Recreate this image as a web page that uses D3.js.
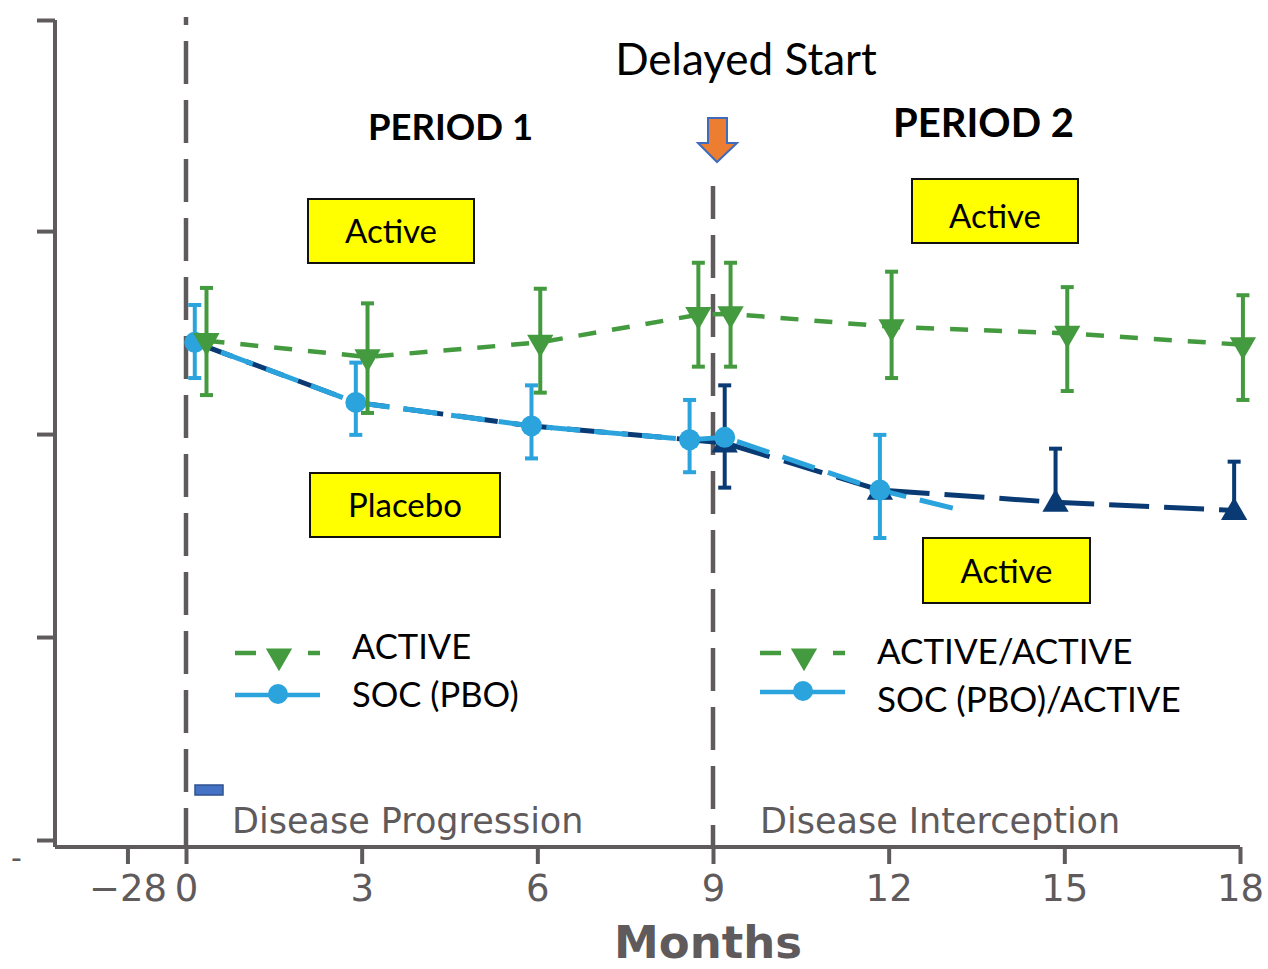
<!DOCTYPE html>
<html>
<head>
<meta charset="utf-8">
<script src="https://cdn.jsdelivr.net/npm/d3@7"></script>
<style>
  html, body { margin: 0; padding: 0; background: #ffffff; }
  svg { display: block; }
</style>
</head>
<body>
<svg id="chart" width="1268" height="969"></svg>
<script>
// ---------------- data ----------------
const xTickValues = [-1, 0, 3, 6, 9, 12, 15, 18];
const xTickLabels = ["\u221228", "0", "3", "6", "9", "12", "15", "18"];
const yTickValues = [0, 25, 50, 75, 101];

// ACTIVE and ACTIVE/ACTIVE (green, down triangles)
const activeMonths = [0.35, 3.1, 6.05, 8.75, 9.3, 12.05, 15.05, 18.05];
const activeValues = [61.5, 59.5, 61.3, 64.7, 64.8, 63.2, 62.4, 61.0];
const activeHigh   = [68.0, 66.1, 67.9, 71.1, 71.1, 70.0, 68.1, 67.1];
const activeLow    = [54.8, 52.6, 55.1, 58.3, 58.3, 56.9, 55.3, 54.2];

// SOC (PBO) and SOC (PBO)/ACTIVE (light blue, circles)
const socMonths  = [0.15, 2.9, 5.9, 8.6, 9.2, 11.85, 13.25];
const socValues  = [61.3, 53.9, 51.0, 49.3, 49.6, 43.1, 40.6];
const socHigh    = [65.9, 58.8, 56.0, 54.2, null, 49.9, null];
const socLow     = [56.9, 49.9, 47.0, 45.3, null, 37.2, null];
const socMarker  = [true, true, true, true, true, true, false];

// SOC (PBO) -> ACTIVE (navy, up triangles)
const navyMonths = [0.15, 2.9, 5.9, 8.6, 9.2, 11.85, 14.85, 17.9];
const navyValues = [61.3, 53.9, 51.0, 49.3, 48.9, 43.1, 41.6, 40.6];
const navyHigh   = [null, null, null, null, 56.0, null, 48.2, 46.6];
const navyLow    = [null, null, null, null, 43.4, null, null, null];
const navyMarker = [false, false, false, false, true, true, true, true];

const periodStarts = [0, 9];

// ---------------- styles ----------------
const GREEN = "#449a3e";
const LBLUE = "#2ba3dc";
const NAVY  = "#0a3a74";
const GRAY  = "#5f5a5c";
const CAL   = "Lato, 'Open Sans', sans-serif";
const TAH   = "'DejaVu Sans', sans-serif";

const svg = d3.select("#chart");

const x = d3.scaleLinear().domain([0, 18]).range([186, 1240]);
const y = d3.scaleLinear().domain([0, 101]).range([840, 20]);
const axisY = 847;
const axisX = 55;

const zip = (ms, vs, hs, ls, mk) => ms.map((m, i) => ({
  m, v: vs[i], hi: hs ? hs[i] : null, lo: ls ? ls[i] : null, mk: mk ? mk[i] : true
}));
const activeData = zip(activeMonths, activeValues, activeHigh, activeLow);
const socData    = zip(socMonths, socValues, socHigh, socLow, socMarker);
const navyData   = zip(navyMonths, navyValues, navyHigh, navyLow, navyMarker);

// ---------------- period dividers ----------------
svg.append("g").selectAll("line").data(periodStarts).join("line")
  .attr("x1", d => x(d)).attr("x2", d => x(d))
  .attr("y1", d => d === 0 ? 17 : 186)
  .attr("y2", axisY)
  .attr("stroke", GRAY).attr("stroke-width", 4.5)
  .attr("stroke-dasharray", "43,16")
  .attr("stroke-dashoffset", d => d === 0 ? 35 : 10);

// ---------------- axes ----------------
const yAxis = svg.append("g").attr("transform", `translate(${axisX},0)`)
  .call(d3.axisLeft(y).tickValues(yTickValues).tickFormat("").tickSizeInner(18).tickSizeOuter(0));
yAxis.select(".domain").attr("d", `M0,${y(101)}V${axisY}`);
yAxis.selectAll("path,line").attr("stroke", GRAY).attr("stroke-width", 4);

const xAxis = svg.append("g").attr("transform", `translate(0,${axisY})`)
  .call(d3.axisBottom(x).tickValues(xTickValues).tickSizeInner(17).tickSizeOuter(0)
    .tickFormat((d, i) => xTickLabels[i]));
xAxis.select(".domain").attr("d", `M${axisX},0H${x(18)}`);
xAxis.selectAll("path,line").attr("stroke", GRAY).attr("stroke-width", 4);
xAxis.selectAll("text")
  .attr("y", 54).attr("dy", 0)
  .attr("fill", GRAY)
  .style("font-family", TAH).style("font-size", "37px");

svg.append("text").attr("x", 708).attr("y", 958)
  .attr("text-anchor", "middle")
  .attr("fill", GRAY)
  .style("font-family", TAH).style("font-weight", "bold").style("font-size", "45px")
  .text("Months");

// small clipped label remnants
svg.append("text").attr("x", 11).attr("y", 868).attr("fill", GRAY)
  .style("font-family", TAH).style("font-size", "30px").text("-");

// ---------------- region labels ----------------
svg.append("rect").attr("x", 195).attr("y", 785).attr("width", 28).attr("height", 10)
  .attr("fill", "#4472c4").attr("stroke", "#2f528f").attr("stroke-width", 1.5);
svg.append("text").attr("x", 232).attr("y", 833).attr("fill", GRAY)
  .style("font-family", TAH).style("font-size", "35px").text("Disease Progression");
svg.append("text").attr("x", 760).attr("y", 833).attr("fill", GRAY)
  .style("font-family", TAH).style("font-size", "35px").text("Disease Interception");

// ---------------- series ----------------
const line = d3.line().x(d => x(d.m)).y(d => y(d.v));

svg.append("path").datum(navyData).attr("d", line)
  .attr("fill", "none").attr("stroke", NAVY).attr("stroke-width", 5)
  .attr("stroke-dasharray", "40,15");
svg.append("path").datum(socData).attr("d", line)
  .attr("fill", "none").attr("stroke", LBLUE).attr("stroke-width", 5)
  .attr("stroke-dasharray", "34,14").attr("stroke-dashoffset", 20);

function errorBars(data, color) {
  const g = svg.append("g").attr("stroke", color).attr("stroke-width", 4);
  const eb = data.filter(d => d.hi !== null);
  g.selectAll("line.v").data(eb).join("line")
    .attr("x1", d => x(d.m)).attr("x2", d => x(d.m))
    .attr("y1", d => y(d.hi)).attr("y2", d => y(d.lo !== null ? d.lo : d.v));
  g.selectAll("line.h").data(eb).join("line")
    .attr("x1", d => x(d.m) - 6.5).attr("x2", d => x(d.m) + 6.5)
    .attr("y1", d => y(d.hi)).attr("y2", d => y(d.hi));
  g.selectAll("line.l").data(eb.filter(d => d.lo !== null)).join("line")
    .attr("x1", d => x(d.m) - 6.5).attr("x2", d => x(d.m) + 6.5)
    .attr("y1", d => y(d.lo)).attr("y2", d => y(d.lo));
}

errorBars(navyData, NAVY);
svg.append("g").selectAll("path").data(navyData.filter(d => d.mk)).join("path")
  .attr("d", d3.symbol(d3.symbolTriangle, 300))
  .attr("transform", d => `translate(${x(d.m)},${y(d.v) + 2})`)
  .attr("fill", NAVY);

errorBars(socData, LBLUE);
svg.append("g").selectAll("circle").data(socData.filter(d => d.mk)).join("circle")
  .attr("cx", d => x(d.m)).attr("cy", d => y(d.v)).attr("r", 10.5)
  .attr("fill", LBLUE);

svg.append("path").datum(activeData).attr("d", line)
  .attr("fill", "none").attr("stroke", GREEN).attr("stroke-width", 4.5)
  .attr("stroke-dasharray", "18,16");
errorBars(activeData, GREEN);
svg.append("g").selectAll("path").data(activeData).join("path")
  .attr("d", d3.symbol(d3.symbolTriangle, 300))
  .attr("transform", d => `translate(${x(d.m)},${y(d.v)}) rotate(180)`)
  .attr("fill", GREEN);

// ---------------- annotations ----------------
svg.append("text").attr("x", 746).attr("y", 75).attr("text-anchor", "middle")
  .attr("fill", "#000").style("font-family", CAL).style("font-size", "44px")
  .text("Delayed Start");
svg.append("text").attr("x", 368).attr("y", 140)
  .attr("fill", "#000").style("font-family", CAL).style("font-weight", "bold").style("font-size", "36.5px")
  .text("PERIOD 1");
svg.append("text").attr("x", 893).attr("y", 137)
  .attr("fill", "#000").style("font-family", CAL).style("font-weight", "bold").style("font-size", "40px")
  .text("PERIOD 2");

// orange arrow
svg.append("path")
  .attr("d", "M708,118 H727 V143 H737 L717,162 L698,143 H708 Z")
  .attr("fill", "#ed7d31").attr("stroke", "#3f6bbd").attr("stroke-width", 2);

const boxes = [
  { x: 308, y: 199, w: 166, h: 64, text: "Active", base: 243 },
  { x: 912, y: 179, w: 166, h: 64, text: "Active", base: 228 },
  { x: 310, y: 473, w: 190, h: 64, text: "Placebo", base: 517 },
  { x: 923, y: 538, w: 167, h: 65, text: "Active", base: 583 }
];
const bg = svg.append("g").selectAll("g").data(boxes).join("g");
bg.append("rect").attr("x", d => d.x).attr("y", d => d.y)
  .attr("width", d => d.w).attr("height", d => d.h)
  .attr("fill", "#ffff00").attr("stroke", "#111").attr("stroke-width", 2);
bg.append("text").attr("x", d => d.x + d.w / 2).attr("y", d => d.base)
  .attr("text-anchor", "middle").attr("fill", "#000")
  .style("font-family", CAL).style("font-size", "33px")
  .text(d => d.text);

// ---------------- legends ----------------
function legend(x0, yTop, yBot, fs, labels, base) {
  const g = svg.append("g");
  g.append("line").attr("x1", x0).attr("x2", x0 + 85).attr("y1", yTop).attr("y2", yTop)
    .attr("stroke", GREEN).attr("stroke-width", 4.5).attr("stroke-dasharray", "21,52");
  g.append("path").attr("d", d3.symbol(d3.symbolTriangle, 300))
    .attr("transform", `translate(${x0 + 44},${yTop + 3}) rotate(180)`).attr("fill", GREEN);
  g.append("line").attr("x1", x0).attr("x2", x0 + 85).attr("y1", yBot).attr("y2", yBot)
    .attr("stroke", LBLUE).attr("stroke-width", 4.5);
  g.append("circle").attr("cx", x0 + 43).attr("cy", yBot - 1).attr("r", 10).attr("fill", LBLUE);
  g.append("text").attr("x", x0 + 117).attr("y", base[0]).attr("fill", "#000")
    .style("font-family", CAL).style("font-size", fs + "px").text(labels[0]);
  g.append("text").attr("x", x0 + 117).attr("y", base[1]).attr("fill", "#000")
    .style("font-family", CAL).style("font-size", fs + "px").text(labels[1]);
}
legend(235, 653, 695, 34.5, ["ACTIVE", "SOC (PBO)"], [659, 707]);
legend(760, 653, 692, 35, ["ACTIVE/ACTIVE", "SOC (PBO)/ACTIVE"], [664, 712]);
</script>
</body>
</html>
